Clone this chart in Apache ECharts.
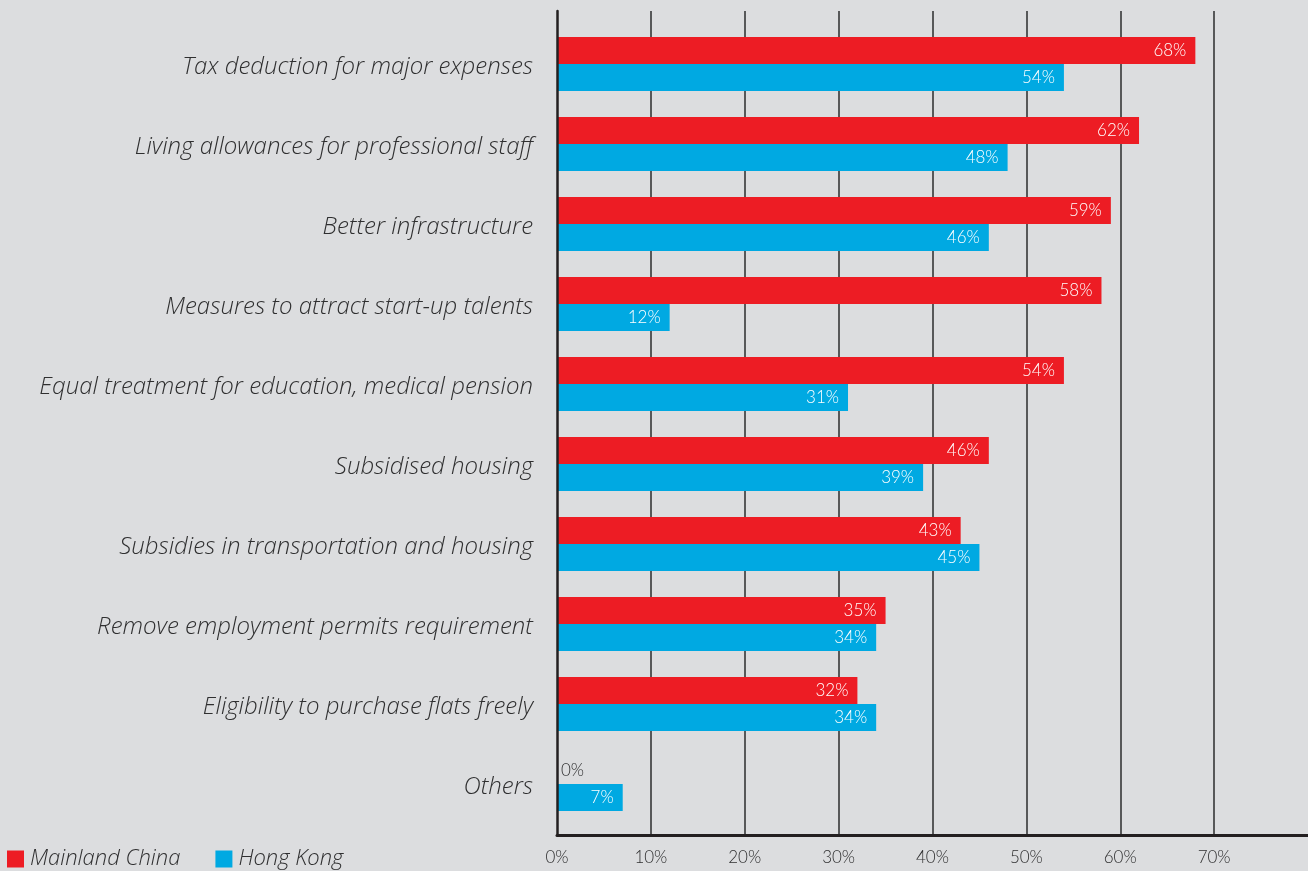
<!DOCTYPE html>
<html>
<head>
<meta charset="utf-8">
<title>Incentives</title>
<script src="https://cdn.jsdelivr.net/npm/echarts@6/dist/echarts.min.js"></script>
<style>
  html, body { margin: 0; padding: 0; background: #dcdddf; }
  #chart { width: 1308px; height: 871px; }
</style>
</head>
<body>
<div id="chart"></div>
<script>
// Survey categories, top to bottom
const categories = [
  'Tax deduction for major expenses',
  'Living allowances for professional staff',
  'Better infrastructure',
  'Measures to attract start-up talents',
  'Equal treatment for education, medical pension',
  'Subsidised housing',
  'Subsidies in transportation and housing',
  'Remove employment permits requirement',
  'Eligibility to purchase flats freely',
  'Others'
];
// Share of respondents (%)
const mainlandChina = [68, 62, 59, 58, 54, 46, 43, 35, 32, 0];
const hongKong = [54, 48, 46, 12, 31, 39, 45, 34, 34, 7];
const seriesNames = ['Mainland China', 'Hong Kong'];
const xTicks = [0, 10, 20, 30, 40, 50, 60, 70];

const NUM_FONT = 'Lato';
const TEXT_FONT = '"Open Sans"';
const INK = '#2f2f30';
const RED = '#ed1c24';
const BLUE = '#00a9e2';

const valueLabel = {
  show: true,
  position: 'insideRight',
  distance: 9,
  color: '#ffffff',
  fontFamily: NUM_FONT,
  fontWeight: 300,
  fontSize: 17,
  formatter: p => p.value + '%'
};

const categoryText = {
  fontFamily: TEXT_FONT,
  fontStyle: 'italic',
  fontWeight: 300,
  fontSize: 24,
  color: INK
};

function withZeroLabel(values) {
  return values.map(v => v === 0
    ? { value: v, label: { position: 'right', distance: 4, color: INK } }
    : v);
}

const chart = echarts.init(document.getElementById('chart'), null, { renderer: 'canvas' });
chart.setOption({
  backgroundColor: '#dcdddf',
  animation: false,
  grid: [
    // frame: gridlines, axis lines, tick labels
    { left: 557, right: 0, top: 11, height: 824 },
    // bars
    { left: 557, right: 0, top: 24, height: 800 }
  ],
  legend: {
    data: seriesNames,
    left: 7,
    top: 848,
    padding: 0,
    itemWidth: 17,
    itemHeight: 17,
    itemGap: 35,
    icon: 'rect',
    textStyle: {
      fontFamily: TEXT_FONT,
      fontStyle: 'italic',
      fontWeight: 300,
      fontSize: 22,
      color: INK,
      padding: [0, 0, 0, 1]
    }
  },
  xAxis: [
    {
      gridIndex: 0,
      type: 'value',
      min: 0,
      max: 80,
      interval: 10,
      z: 0,
      axisLine: { show: true, onZero: false, lineStyle: { color: '#231f20', width: 3 } },
      axisTick: { show: false },
      splitLine: {
        show: true,
        showMinLine: false,
        showMaxLine: false,
        lineStyle: { color: '#2b2b2c', width: 1.5 }
      },
      axisLabel: {
        margin: 14,
        showMaxLabel: false,
        fontFamily: NUM_FONT,
        fontWeight: 300,
        fontSize: 17,
        color: INK,
        formatter: v => xTicks.indexOf(v) >= 0 ? v + '%' : ''
      }
    },
    {
      gridIndex: 1,
      type: 'value',
      min: 0,
      max: 80,
      show: false
    }
  ],
  yAxis: [
    {
      gridIndex: 0,
      type: 'category',
      data: [''],
      z: 5,
      axisLine: { show: true, lineStyle: { color: '#231f20', width: 2.5 } },
      axisTick: { show: false },
      axisLabel: { show: false },
      splitLine: { show: false }
    },
    {
      gridIndex: 1,
      type: 'category',
      inverse: true,
      data: categories,
      axisLine: { show: false },
      axisTick: { show: false },
      axisLabel: Object.assign({
        margin: 24,
        formatter: v => '{c|' + v + '}',
        rich: { c: Object.assign({ padding: [7, 0, 0, 0] }, categoryText) }
      }, categoryText)
    }
  ],
  series: [
    {
      name: seriesNames[0],
      type: 'bar',
      xAxisIndex: 1,
      yAxisIndex: 1,
      data: withZeroLabel(mainlandChina),
      barWidth: 27,
      barGap: '0%',
      itemStyle: { color: RED },
      label: valueLabel
    },
    {
      name: seriesNames[1],
      type: 'bar',
      xAxisIndex: 1,
      yAxisIndex: 1,
      data: withZeroLabel(hongKong),
      barWidth: 27,
      barGap: '0%',
      itemStyle: { color: BLUE },
      label: valueLabel
    }
  ]
});
</script>
</body>
</html>
